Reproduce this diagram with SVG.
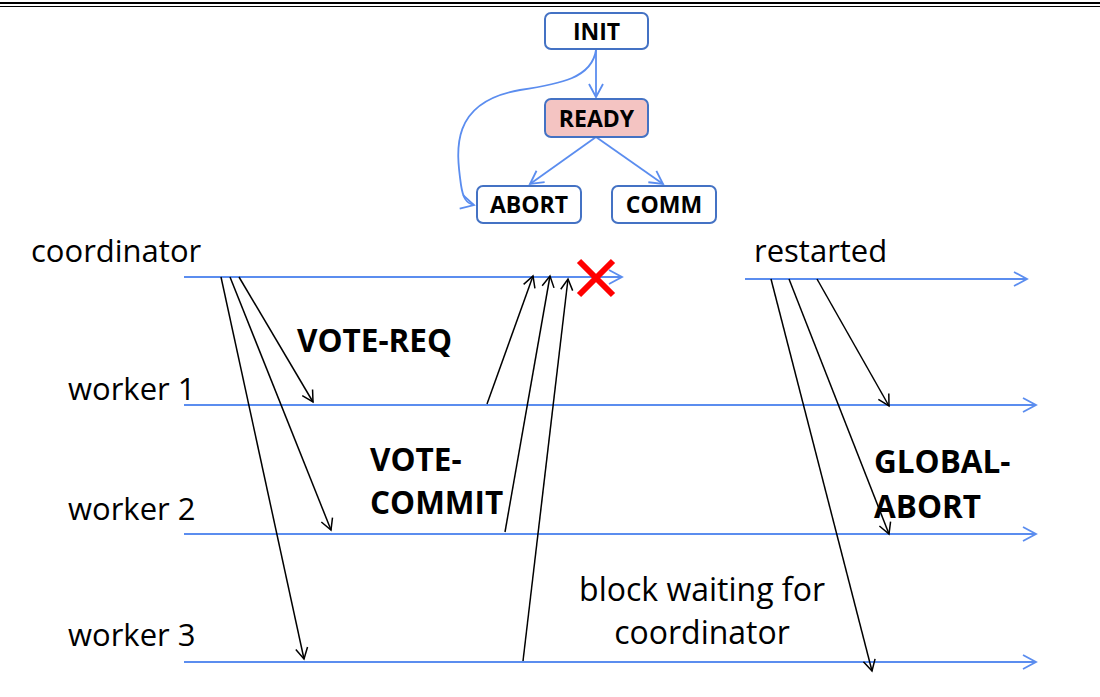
<svg xmlns="http://www.w3.org/2000/svg" width="1100" height="697" viewBox="0 0 1100 697">
<style>
.box{fill:#fff;stroke:#4472C4;stroke-width:2}
.bt{font-family:"Open Sans","Noto Sans","Liberation Sans",sans-serif;font-weight:bold;font-size:23px;fill:#000;text-anchor:middle}
.lbl{font-family:"Open Sans","Noto Sans","Liberation Sans",sans-serif;font-size:31px;fill:#000}
.bold{font-family:"Open Sans","Noto Sans","Liberation Sans",sans-serif;font-weight:bold;font-size:31.5px;fill:#000}
.tl{stroke:#5B8DEF;stroke-width:2;fill:none}
.msg{stroke:#000;stroke-width:1.5;fill:none}
.sc{stroke:#5B8DEF;stroke-width:1.8;fill:none}
</style>
<defs>
<marker id="ab" markerUnits="userSpaceOnUse" markerWidth="14" markerHeight="14" viewBox="0 0 14 14" refX="12" refY="7" orient="auto">
<path d="M1,1 L12,7 L1,13" fill="none" stroke="#000" stroke-width="1.5"/>
</marker>
<marker id="ab2" markerUnits="userSpaceOnUse" markerWidth="16" markerHeight="16" viewBox="0 0 16 16" refX="14" refY="8" orient="auto">
<path d="M1,1 L14,8 L1,15" fill="none" stroke="#5B8DEF" stroke-width="1.8"/>
</marker>
</defs>
<rect width="1100" height="697" fill="#fff"/>
<line x1="0" y1="3" x2="1100" y2="3" stroke="#000" stroke-width="2.2"/>
<line x1="0" y1="6.5" x2="1100" y2="6.5" stroke="#000" stroke-width="1"/>

<g id="connectors">
<line class="sc" x1="596" y1="50" x2="596" y2="97" marker-end="url(#ab2)"/>
<path class="sc" d="M596,50 C592,78 560,84 520,90 C450,102 456,150 461,185 C463,198 466,203 474,205" marker-end="url(#ab2)"/>
<line class="sc" x1="596" y1="137" x2="530" y2="184" marker-end="url(#ab2)"/>
<line class="sc" x1="596" y1="137" x2="663" y2="184" marker-end="url(#ab2)"/>

<line class="tl" x1="184" y1="277" x2="622" y2="277" marker-end="url(#ab2)"/>
<line class="tl" x1="745" y1="279" x2="1027" y2="279" marker-end="url(#ab2)"/>
<line class="tl" x1="184" y1="405" x2="1036" y2="405" marker-end="url(#ab2)"/>
<line class="tl" x1="184" y1="534" x2="1036" y2="534" marker-end="url(#ab2)"/>
<line class="tl" x1="184" y1="662" x2="1036" y2="662" marker-end="url(#ab2)"/>

<line class="msg" x1="221" y1="277" x2="304" y2="659" marker-end="url(#ab)"/>
<line class="msg" x1="230" y1="277" x2="331" y2="530" marker-end="url(#ab)"/>
<line class="msg" x1="239" y1="277" x2="313" y2="402" marker-end="url(#ab)"/>

<line class="msg" x1="487" y1="404" x2="533" y2="276" marker-end="url(#ab)"/>
<line class="msg" x1="505" y1="532" x2="550" y2="276" marker-end="url(#ab)"/>
<line class="msg" x1="523" y1="661" x2="568" y2="279" marker-end="url(#ab)"/>

<line class="msg" x1="771" y1="279" x2="872" y2="671" marker-end="url(#ab)"/>
<line class="msg" x1="789" y1="279" x2="889" y2="534" marker-end="url(#ab)"/>
<line class="msg" x1="817" y1="279" x2="889" y2="406" marker-end="url(#ab)"/>
</g>

<g id="crash">
<line x1="579" y1="261" x2="613" y2="295" stroke="#FF0000" stroke-width="6"/>
<line x1="613" y1="261" x2="579" y2="295" stroke="#FF0000" stroke-width="6"/>
</g>

<g id="INIT"><rect class="box" x="545" y="13" width="103" height="36" rx="6"/><text class="bt" x="596.5" y="39.5">INIT</text></g>
<g id="READY"><rect class="box" x="545" y="99" width="103" height="38" rx="6" style="fill:#F4C4C2"/><text class="bt" x="596.5" y="126.5">READY</text></g>
<g id="ABORT"><rect class="box" x="477" y="186" width="104" height="37" rx="6"/><text class="bt" x="529" y="213">ABORT</text></g>
<g id="COMM"><rect class="box" x="612" y="186" width="104" height="37" rx="6"/><text class="bt" x="664" y="213">COMM</text></g>

<g id="labels">
<text class="lbl" x="31" y="262">coordinator</text>
<text class="lbl" x="754" y="262">restarted</text>
<text class="lbl" x="68" y="400">worker 1</text>
<text class="lbl" x="68" y="520">worker 2</text>
<text class="lbl" x="68" y="646">worker 3</text>
<text class="bold" x="297" y="352">VOTE-REQ</text>
<text class="bold" x="370" y="471">VOTE-</text>
<text class="bold" x="370" y="514">COMMIT</text>
<text class="bold" x="874" y="473">GLOBAL-</text>
<text class="bold" x="874" y="518">ABORT</text>
<text class="lbl" x="702" y="601" text-anchor="middle" style="font-size:32px">block waiting for</text>
<text class="lbl" x="702" y="644" text-anchor="middle" style="font-size:32px">coordinator</text>
</g>
</svg>
